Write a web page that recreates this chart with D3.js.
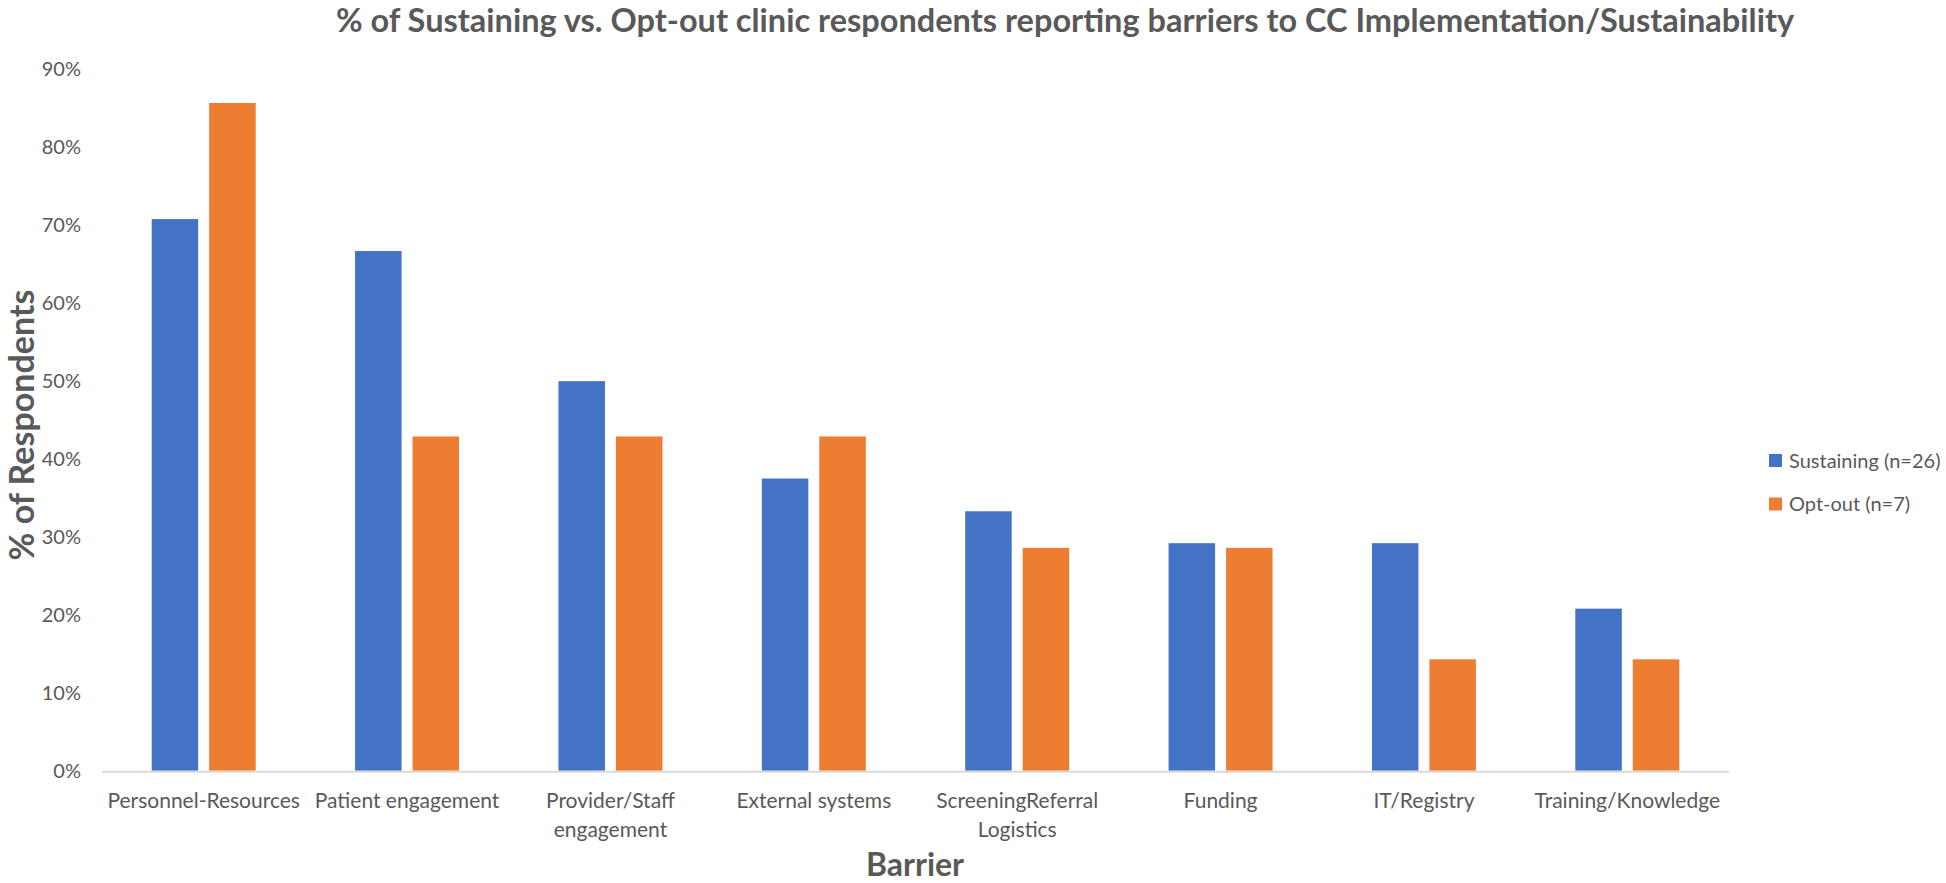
<!DOCTYPE html>
<html>
<head>
<meta charset="utf-8">
<script src="https://cdn.jsdelivr.net/npm/d3@7"></script>
<style>
  html, body { margin: 0; padding: 0; background: #fff; }
  svg { display: block; }
  text { font-family: Lato, "Open Sans", sans-serif; fill: #595959; }
</style>
</head>
<body>
<svg id="chart" width="1946" height="883"></svg>
<script>
const categories = ["Personnel-Resources", "Patient engagement", "Provider/Staff engagement", "External systems", "ScreeningReferral Logistics", "Funding", "IT/Registry", "Training/Knowledge"];
const seriesNames = ["Sustaining (n=26)", "Opt-out (n=7)"];
const sustaining = [0.708, 0.667, 0.500, 0.375, 0.333, 0.292, 0.292, 0.208];
const optOut = [0.857, 0.429, 0.429, 0.429, 0.286, 0.286, 0.143, 0.143];
const yTicks = [0, 0.1, 0.2, 0.3, 0.4, 0.5, 0.6, 0.7, 0.8, 0.9];
const colors = ["#4472C4", "#ED7D31"];

(function () {
const svg = d3.select("#chart");
const mLeft = 102, mRight = 1729, mTop = 69.5, mBottom = 770.7;
const labelSize = "21px";

const x0 = d3.scaleBand().domain(categories).range([mLeft, mRight]).paddingInner(0).paddingOuter(0);
const bw = x0.bandwidth();
const barW = bw * 0.2286, gap = bw * 0.054;
const y = d3.scaleLinear().domain([0, 0.9]).range([mBottom, mTop]);

// bars
const series = [sustaining, optOut];
series.forEach((vals, si) => {
  svg.append("g").selectAll("rect").data(vals).join("rect")
    .attr("x", (d, i) => x0(categories[i]) + bw / 2 - barW - gap / 2 + si * (barW + gap))
    .attr("y", d => y(d))
    .attr("width", barW)
    .attr("height", d => y(0) - y(d))
    .attr("fill", colors[si]);
});

// x axis line
svg.append("line").attr("x1", mLeft).attr("x2", mRight).attr("y1", y(0) + 1).attr("y2", y(0) + 1)
  .attr("stroke", "#D9D9D9").attr("stroke-width", 2);

// y axis labels
const yAxis = d3.axisLeft(y).tickValues(yTicks).tickFormat(d3.format(".0%")).tickSize(0).tickPadding(0);
const gy = svg.append("g").attr("transform", "translate(81,0)").call(yAxis);
gy.select(".domain").remove();
gy.selectAll("text").style("font-family", "Lato, sans-serif").style("font-size", "20px").attr("fill", "#595959");

// x axis labels with wrapping
const xAxis = d3.axisBottom(x0).tickSize(0).tickPadding(0);
const gx = svg.append("g").attr("transform", `translate(0,${y(0)})`).call(xAxis);
gx.select(".domain").remove();
gx.selectAll("text").each(function(d) {
  const t = d3.select(this);
  t.text(null).attr("y", 0).attr("dy", null)
    .style("font-family", "Lato, sans-serif").style("font-size", labelSize).attr("fill", "#595959");
  const words = d.split(" ");
  let lines = [], line = [];
  const maxW = 200;
  words.forEach(w => {
    const test = line.concat([w]).join(" ");
    t.text(test);
    if (this.getComputedTextLength() > maxW && line.length) { lines.push(line.join(" ")); line = [w]; }
    else line.push(w);
  });
  lines.push(line.join(" "));
  t.text(null);
  lines.forEach((l, i) => t.append("tspan").attr("x", 0).attr("y", 37 + i * 29).text(l));
});

// title
svg.append("text").attr("x", 1065).attr("y", 32).attr("text-anchor", "middle")
  .style("font-size", "32.5px").style("font-weight", "bold")
  .text("% of Sustaining vs. Opt-out clinic respondents reporting barriers to CC Implementation/Sustainability");

// y axis title
svg.append("text").attr("transform", "translate(34,425) rotate(-90)").attr("text-anchor", "middle")
  .style("font-size", "34px").style("font-weight", "bold").text("% of Respondents");

// x axis title
svg.append("text").attr("x", 915).attr("y", 876).attr("text-anchor", "middle")
  .style("font-size", "32px").style("font-weight", "bold").text("Barrier");

// legend
const lg = svg.append("g").attr("transform", "translate(1769,0)");
seriesNames.forEach((n, i) => {
  const yy = 460.5 + i * 43.5;
  lg.append("rect").attr("x", 0).attr("y", yy - 6.5).attr("width", 13).attr("height", 13).attr("fill", colors[i]);
  lg.append("text").attr("x", 20).attr("y", yy).attr("dy", "0.35em").style("font-size", "20px").text(n);
});
})();
</script>
</body>
</html>
